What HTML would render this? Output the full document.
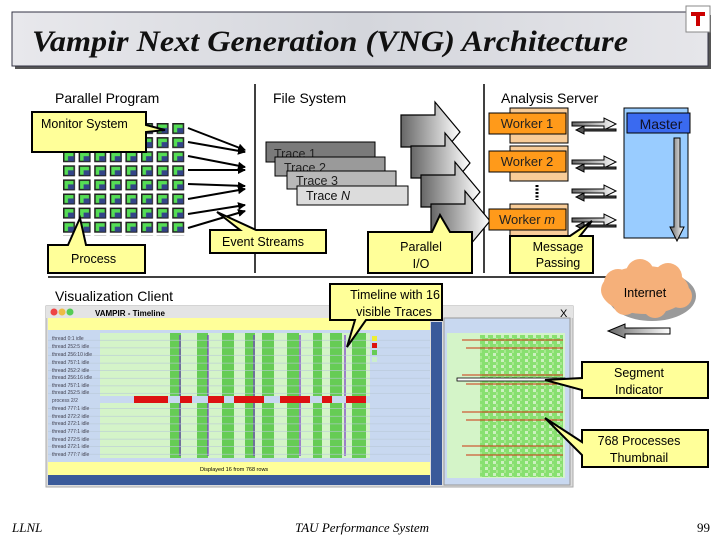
<!DOCTYPE html>
<html><head><meta charset="utf-8"><style>
html,body{margin:0;padding:0;background:#fff}
svg{display:block}
text{font-family:"Liberation Sans",sans-serif}
</style></head><body>
<svg width="720" height="540" viewBox="0 0 720 540" xmlns="http://www.w3.org/2000/svg">
<defs>
<linearGradient id="ga" x1="0" x2="1" y1="0" y2="0"><stop offset="0" stop-color="#666"/><stop offset="1" stop-color="#fff"/></linearGradient>
<linearGradient id="gt" x1="0" x2="1" y1="0" y2="0"><stop offset="0" stop-color="#e8e8ec"/><stop offset=".5" stop-color="#d4d6dc"/><stop offset="1" stop-color="#e6e6ea"/></linearGradient>
<pattern id="grid" x="63" y="123" width="15.6" height="14.1" patternUnits="userSpaceOnUse">
<rect x="0" y="0" width="12" height="11" fill="#202020"/>
<rect x="1.5" y="1.5" width="9" height="8" fill="#55dd55"/>
<rect x="5" y="5" width="6" height="5" fill="#334488"/>
</pattern>
<pattern id="rows" x="0" y="333" width="10" height="7.6" patternUnits="userSpaceOnUse">
<rect width="10" height="7.6" fill="none"/><line x1="0" y1="7.3" x2="10" y2="7.3" stroke="#b8c8d8" stroke-width=".6"/>
</pattern>
<pattern id="thumb" x="480" y="335" width="8" height="6" patternUnits="userSpaceOnUse">
<rect width="8" height="6" fill="#88e070"/><rect x="5" y="0" width="3" height="3" fill="#cdf0c0"/><rect x="0" y="3" width="2" height="3" fill="#a8e890"/>
</pattern>
<marker id="ah" markerWidth="8" markerHeight="8" refX="7" refY="4" orient="auto" markerUnits="userSpaceOnUse"><path d="M0,0 L8,4 L0,8 z" fill="#000"/></marker>
</defs>

<rect x="15" y="15" width="696" height="54" fill="#555"/>
<rect x="12" y="12" width="696" height="54" fill="url(#gt)" stroke="#334" stroke-width="1"/>
<text x="32" y="51" font-style="italic" font-weight="bold" font-size="30" fill="#111" textLength="596" lengthAdjust="spacingAndGlyphs" style="font-family:'Liberation Serif',serif">Vampir Next Generation (VNG) Architecture</text>
<rect x="686" y="6" width="24" height="26" fill="#fff" stroke="#888"/>
<path d="M691,12 h14 v4 h-5 v10 h-4 v-10 h-5z" fill="#c00"/>

<text x="55" y="103" font-size="14">Parallel Program</text>
<text x="273" y="103" font-size="14">File System</text>
<text x="501" y="103" font-size="14">Analysis Server</text>
<line x1="255" y1="84" x2="255" y2="273" stroke="#000" stroke-width="1.5"/>
<line x1="484" y1="84" x2="484" y2="273" stroke="#000" stroke-width="1.5"/>
<line x1="48" y1="277" x2="612" y2="277" stroke="#000" stroke-width="1.5"/>

<rect x="63" y="123" width="124" height="113" fill="url(#grid)"/>

<g stroke="#000" stroke-width="2" marker-end="url(#ah)">
<line x1="188" y1="128" x2="245" y2="150"/>
<line x1="188" y1="142" x2="245" y2="152"/>
<line x1="188" y1="156" x2="245" y2="167"/>
<line x1="188" y1="170" x2="245" y2="170"/>
<line x1="188" y1="184" x2="245" y2="186"/>
<line x1="188" y1="199" x2="245" y2="189"/>
<line x1="188" y1="214" x2="245" y2="205"/>
<line x1="188" y1="228" x2="245" y2="211"/>
</g>

<polygon points="32,112 146,112 146,125 165,130 146,132 146,152 32,152" fill="#ffff99" stroke="#000" stroke-width="2"/>
<text x="41" y="128" font-size="12.5">Monitor System</text>
<polygon points="48,245 68,245 80,218 86,245 145,245 145,273 48,273" fill="#ffff99" stroke="#000" stroke-width="2"/>
<text x="71" y="263" font-size="12.5">Process</text>
<polygon points="210,230 240,230 217,212 256,230 326,230 326,253 210,253" fill="#ffff99" stroke="#000" stroke-width="2"/>
<text x="222" y="246" font-size="12.5">Event Streams</text>

<rect x="266" y="142" width="109" height="20" fill="#7a7a7a" stroke="#000"/>
<text x="274" y="158" font-size="12.5" fill="#222">Trace 1</text>
<rect x="275" y="157" width="110" height="19" fill="#9a9a9a" stroke="#000"/>
<text x="284" y="172" font-size="12.5" fill="#222">Trace 2</text>
<rect x="287" y="171" width="109" height="18" fill="#b8b8b8" stroke="#000"/>
<text x="296" y="185" font-size="12.5" fill="#222">Trace 3</text>
<rect x="297" y="186" width="111" height="19" fill="#dcdcdc" stroke="#000"/>
<text x="306" y="200" font-size="12.5" fill="#111">Trace <tspan font-style="italic">N</tspan></text>

<g stroke="#000" stroke-width="1.2" fill="url(#ga)">
<path d="M401,115 h34 v-13 l25,30 l-25,30 v-15 h-34z"/>
<path d="M411,146 h34 v-13 l25,30 l-25,30 v-15 h-34z"/>
<path d="M421,175 h34 v-13 l25,30 l-25,30 v-15 h-34z"/>
<path d="M431,204 h34 v-13 l25,30 l-25,30 v-15 h-34z"/>
</g>
<polygon points="368,232 432,232 440,215 450,232 472,232 472,273 368,273" fill="#ffff99" stroke="#000" stroke-width="2"/>
<text x="421" y="251" font-size="12.5" text-anchor="middle">Parallel</text>
<text x="421" y="268" font-size="12.5" text-anchor="middle">I/O</text>

<g stroke="#000">
<rect x="510" y="108" width="58" height="35" fill="#f8cc98"/>
<rect x="489" y="113" width="77" height="21" fill="#ff9a1a"/>
<rect x="510" y="146" width="58" height="35" fill="#f8cc98"/>
<rect x="489" y="151" width="77" height="21" fill="#ff9a1a"/>
<rect x="510" y="204" width="58" height="35" fill="#f8cc98"/>
<rect x="489" y="209" width="77" height="21" fill="#ff9a1a"/>
</g>
<text x="527" y="128" font-size="13" text-anchor="middle" fill="#222">Worker 1</text>
<text x="527" y="166" font-size="13" text-anchor="middle" fill="#222">Worker 2</text>
<text x="527" y="224" font-size="13" text-anchor="middle" fill="#222">Worker <tspan font-style="italic">m</tspan></text>
<line x1="537" y1="185" x2="537" y2="200" stroke="#000" stroke-width="3" stroke-dasharray="2,1.5"/>

<g stroke="#000" stroke-width="1" fill="url(#ga)">
<g id="da"><path d="M572,122 h32 v-4 l12,6 l-12,6 v-4 h-32z"/><path d="M616,129 h-32 v-3 l-8,4 l8,4 v-3 h32z" fill="#555"/></g>
<use href="#da" y="38"/><use href="#da" y="67"/><use href="#da" y="96"/>
</g>

<rect x="624" y="108" width="64" height="130" fill="#99ccff" stroke="#000"/>
<rect x="627" y="113" width="63" height="20" fill="#3a6af0" stroke="#000"/>
<text x="661" y="129" font-size="14" text-anchor="middle" fill="#112">Master</text>
<path d="M674,138 h6 v89 h4 l-7,14 l-7,-14 h4z" fill="url(#ga)" stroke="#000"/>

<polygon points="510,236 570,236 592,221 580,236 593,236 593,273 510,273" fill="#ffff99" stroke="#000" stroke-width="2"/>
<text x="558" y="251" font-size="12.5" text-anchor="middle">Message</text>
<text x="558" y="267" font-size="12.5" text-anchor="middle">Passing</text>

<g fill="#9a9a9a"><ellipse cx="652" cy="296" rx="44" ry="25"/></g>
<g fill="#f5b07a">
<ellipse cx="645" cy="290" rx="44" ry="24"/><circle cx="618" cy="283" r="14"/><circle cx="640" cy="273" r="14"/><circle cx="668" cy="277" r="14"/><circle cx="680" cy="296" r="12"/><circle cx="625" cy="303" r="12"/><circle cx="655" cy="306" r="12"/>
</g>
<text x="645" y="297" font-size="12.5" text-anchor="middle">Internet</text>

<text x="55" y="301" font-size="14">Visualization Client</text>

<rect x="46" y="306" width="527" height="181" fill="#dcdcdc" stroke="#aaa"/>
<rect x="46" y="306" width="527" height="12" fill="#e4e4e4"/>
<circle cx="54" cy="312" r="3.5" fill="#e44"/><circle cx="62" cy="312" r="3.5" fill="#eb4"/><circle cx="70" cy="312" r="3.5" fill="#5c5"/>
<text x="95" y="316" font-size="8" font-weight="bold">VAMPIR - Timeline</text>
<text x="560" y="317" font-size="11">X</text>
<rect x="48" y="318" width="382" height="12" fill="#ffff99"/>
<rect x="48" y="330" width="382" height="132" fill="#c8d8f0"/>
<rect x="100" y="333" width="270" height="125" fill="#d4f4c8"/>
<g fill="#66cc55">
<rect x="170" y="333" width="11" height="125"/><rect x="197" y="333" width="11" height="125"/><rect x="222" y="333" width="12" height="125"/><rect x="245" y="333" width="10" height="125"/><rect x="262" y="333" width="12" height="125"/><rect x="287" y="333" width="12" height="125"/><rect x="313" y="333" width="9" height="125"/><rect x="330" y="333" width="12" height="125"/><rect x="352" y="333" width="14" height="125"/>
</g>
<g stroke="#7733cc" stroke-width="1.2"><line x1="180" y1="335" x2="180" y2="456"/><line x1="208" y1="335" x2="208" y2="456"/><line x1="254" y1="335" x2="254" y2="456"/><line x1="300" y1="335" x2="300" y2="456"/><line x1="345" y1="335" x2="345" y2="456"/></g>
<rect x="48" y="333" width="382" height="125" fill="url(#rows)"/>
<rect x="48" y="396" width="382" height="7" fill="#c8d8f0"/>
<g fill="#dd1111"><rect x="134" y="396" width="34" height="7"/><rect x="180" y="396" width="12" height="7"/><rect x="208" y="396" width="16" height="7"/><rect x="234" y="396" width="30" height="7"/><rect x="280" y="396" width="30" height="7"/><rect x="322" y="396" width="10" height="7"/><rect x="346" y="396" width="20" height="7"/></g>
<g font-size="5" fill="#445"><text x="52" y="340">thread 0:1  idle</text><text x="52" y="348">thread 252:5 idle</text><text x="52" y="356">thread 256:10 idle</text><text x="52" y="364">thread 757:1 idle</text><text x="52" y="372">thread 252:2 idle</text><text x="52" y="379">thread 256:16 idle</text><text x="52" y="387">thread 757:1 idle</text><text x="52" y="394">thread 252:5 idle</text><text x="52" y="402">process 2/2</text><text x="52" y="410">thread 777:1 idle</text><text x="52" y="418">thread 272:2 idle</text><text x="52" y="425">thread 272:1 idle</text><text x="52" y="433">thread 777:1 idle</text><text x="52" y="441">thread 272:5 idle</text><text x="52" y="448">thread 272:1 idle</text><text x="52" y="456">thread 777:7 idle</text></g>
<g><rect x="372" y="336" width="5" height="5" fill="#ee3"/><rect x="372" y="343" width="5" height="5" fill="#d11"/><rect x="372" y="350" width="5" height="5" fill="#6c5"/><rect x="372" y="357" width="5" height="5" fill="#cec"/></g>
<rect x="48" y="462" width="382" height="13" fill="#ffff99"/>
<text x="200" y="471" font-size="5.5">Displayed 16 from 768 rows</text>
<rect x="48" y="475" width="382" height="10" fill="#3a5a9a"/>
<rect x="431" y="322" width="11" height="163" fill="#3a5a9a"/>
<rect x="444" y="318" width="126" height="167" fill="#c8d8f0" stroke="#999"/>
<rect x="447" y="333" width="118" height="145" fill="#d4f4c8"/>
<rect x="480" y="335" width="83" height="142" fill="url(#thumb)"/>
<g stroke="#cc3311" stroke-width="1"><line x1="462" y1="340" x2="563" y2="340"/><line x1="466" y1="348" x2="563" y2="348"/><line x1="462" y1="375" x2="563" y2="375"/><line x1="466" y1="384" x2="563" y2="384"/><line x1="462" y1="412" x2="563" y2="412"/><line x1="466" y1="420" x2="563" y2="420"/><line x1="462" y1="446" x2="563" y2="446"/><line x1="466" y1="455" x2="563" y2="455"/></g>
<rect x="457" y="378" width="108" height="3" fill="#fff" stroke="#000" stroke-width=".8"/>

<polygon points="330,284 442,284 442,320 366,320 347,347 355,320 330,320" fill="#ffff99" stroke="#000" stroke-width="2"/>
<text x="395" y="299" font-size="12.5" text-anchor="middle">Timeline with 16</text>
<text x="394" y="316" font-size="12.5" text-anchor="middle">visible Traces</text>

<path d="M670,328 h-45 v-4 l-17,7 l17,7 v-4 h45z" fill="url(#ga)" stroke="#000"/>

<polygon points="582,362 708,362 708,398 582,398 582,390 545,380 582,378" fill="#ffff99" stroke="#000" stroke-width="2"/>
<text x="639" y="377" font-size="12.5" text-anchor="middle">Segment</text>
<text x="639" y="394" font-size="12.5" text-anchor="middle">Indicator</text>
<polygon points="582,430 708,430 708,467 582,467 582,455 545,418 582,442" fill="#ffff99" stroke="#000" stroke-width="2"/>
<text x="639" y="445" font-size="12.5" text-anchor="middle">768 Processes</text>
<text x="639" y="462" font-size="12.5" text-anchor="middle">Thumbnail</text>

<text x="12" y="532" font-size="13" font-style="italic" style="font-family:'Liberation Serif',serif">LLNL</text>
<text x="362" y="532" font-size="13" font-style="italic" text-anchor="middle" style="font-family:'Liberation Serif',serif">TAU Performance System</text>
<text x="710" y="532" font-size="13" text-anchor="end" style="font-family:'Liberation Serif',serif">99</text>
</svg>
</body></html>
